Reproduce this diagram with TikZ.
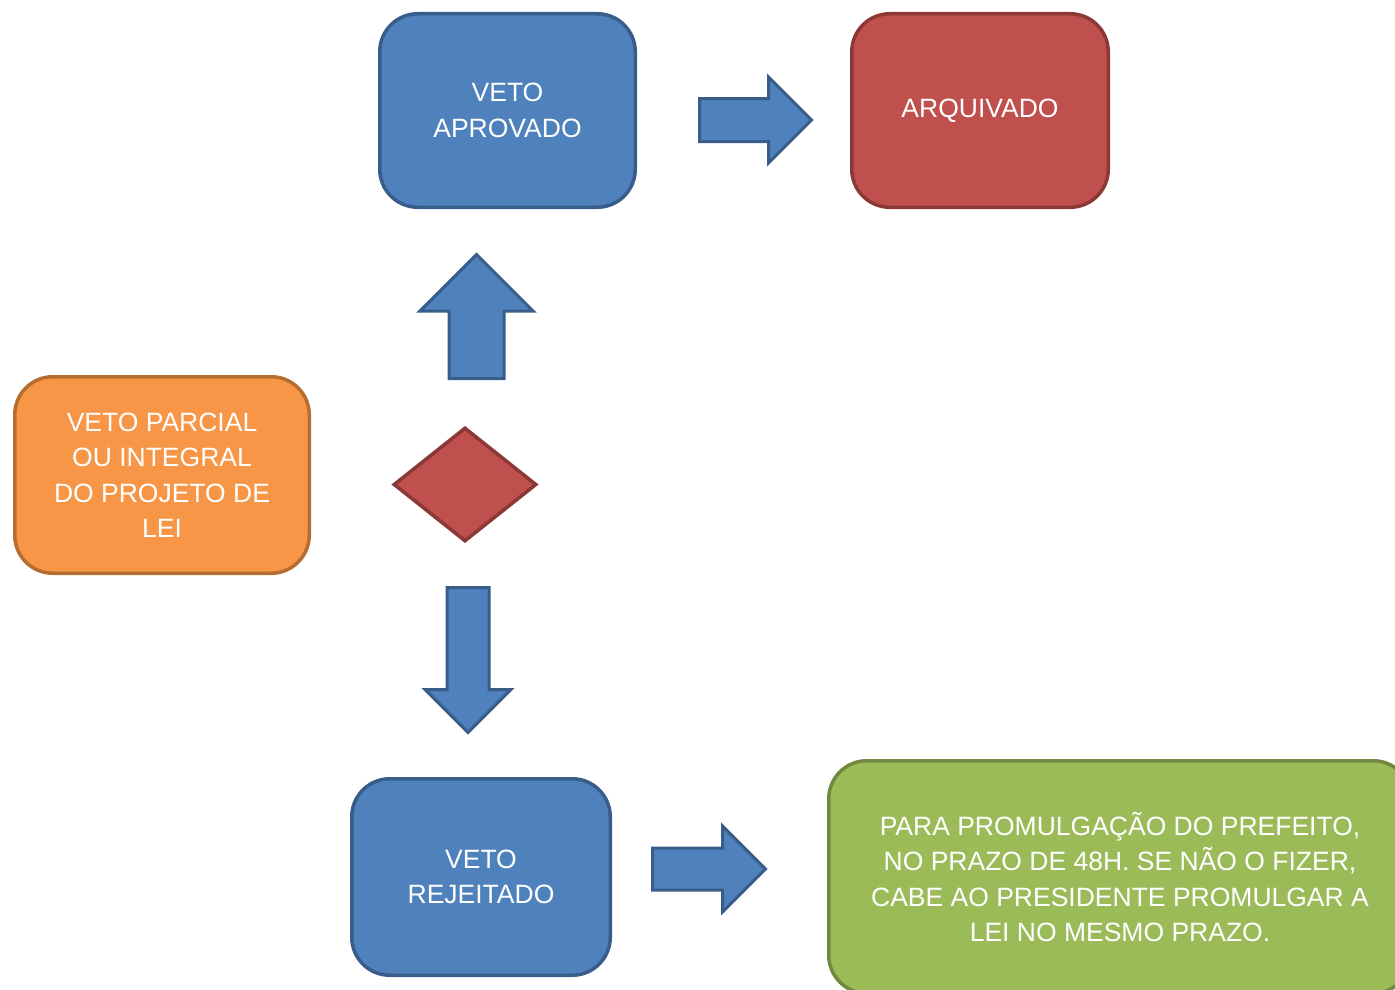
\documentclass[tikz,border=0pt]{standalone}
\usepackage{fontspec}
\setmainfont{Liberation Sans}
\usepackage{tikz}
\usetikzlibrary{positioning,shapes.geometric,shapes.arrows}

\definecolor{boxblue}{HTML}{4F81BD}
\definecolor{edgeblue}{HTML}{385D8A}
\definecolor{boxred}{HTML}{C0504D}
\definecolor{edgered}{HTML}{8C3836}
\definecolor{boxorange}{HTML}{F79646}
\definecolor{edgeorange}{HTML}{B66D31}
\definecolor{boxgreen}{HTML}{9BBB59}
\definecolor{edgegreen}{HTML}{71893F}

\tikzset{
  flowbox/.style={rectangle,rounded corners=38pt,line width=3.5pt,text=white,align=center,
    font=\fontsize{26.5}{35.5}\selectfont},
  bluebox/.style={flowbox,fill=boxblue,draw=edgeblue},
  bigarrow/.style={single arrow,single arrow tip angle=90,fill=boxblue,draw=edgeblue,
    line width=3pt,minimum width=0pt,anchor=tail},
}

\begin{document}
\begin{tikzpicture}[x=1pt,y=-1pt]

\useasboundingbox (0,0) rectangle (1395,990);
\clip (0,0) rectangle (1395,990);

\node[shape=diamond,fill=boxred,draw=edgered,line width=3.5pt,inner sep=0pt,
  minimum width=143pt,minimum height=114pt] (dec) at (465,484.5) {};
\node[flowbox,fill=boxorange,draw=edgeorange,minimum width=294.5pt,minimum height=196.5pt]
  (veto) at (162,475) {VETO PARCIAL\\OU INTEGRAL\\DO PROJETO DE\\LEI};

\node[bluebox,minimum width=255.5pt,minimum height=193.5pt] (aprov) at (507.5,110.5) {VETO\\APROVADO};
\node[flowbox,fill=boxred,draw=edgered,minimum width=256.5pt,minimum height=193.5pt,
  right=213pt of aprov] (arq) {ARQUIVADO};

\node[bluebox,minimum width=258.5pt,minimum height=196.5pt] (rej) at (481,877) {VETO\\REJEITADO};
\node[flowbox,fill=boxgreen,draw=edgegreen,minimum width=582.5pt,minimum height=232.5pt,
  right=215pt of rej] (prom) {PARA PROMULGAÇÃO DO PREFEITO,\\NO PRAZO DE 48H. SE NÃO O FIZER,\\CABE AO PRESIDENTE PROMULGAR A\\LEI NO MESMO PRAZO.};

\node[bigarrow,inner sep=26pt,single arrow head extend=29pt,minimum height=124pt,
  shape border rotate=90] (up) at (476.5,380) {};
\node[bigarrow,inner sep=19.5pt,single arrow head extend=22pt,minimum height=145pt,
  shape border rotate=270] (down) at (468,586) {};
\node[bigarrow,inner sep=20pt,single arrow head extend=21.5pt,minimum height=112pt]
  (toarq) at (698,120) {};
\node[bigarrow,inner sep=19.5pt,single arrow head extend=22pt,minimum height=113pt]
  (toprom) at (651,869) {};

\end{tikzpicture}
\end{document}
